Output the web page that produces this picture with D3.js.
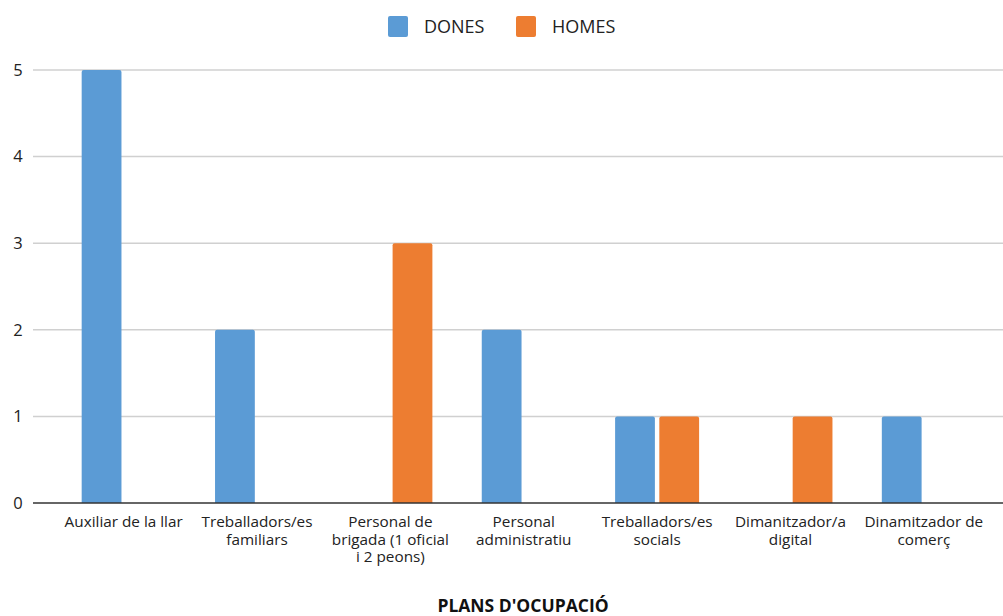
<!DOCTYPE html>
<html><head><meta charset="utf-8">
<script src="https://cdn.jsdelivr.net/npm/d3@7"></script>
<style>body{margin:0;background:#fff;}svg{display:block;font-family:"Open Sans",sans-serif;}</style>
</head><body><svg id="c" width="1003" height="616"></svg>
<script>
const categories = [
  ["Auxiliar de la llar"],
  ["Treballadors/es","familiars"],
  ["Personal de","brigada (1 oficial","i 2 peons)"],
  ["Personal","administratiu"],
  ["Treballadors/es","socials"],
  ["Dimanitzador/a","digital"],
  ["Dinamitzador de","comerç"]
];
const series = ["DONES","HOMES"];
const dones = [5, 2, 0, 2, 1, 0, 1];
const homes = [0, 0, 3, 0, 1, 1, 0];
const colors = ["#5b9bd5","#ed7d31"];
const yTicks = [0,1,2,3,4,5];
const xTitle = "PLANS D'OCUPACIÓ";

const svg = d3.select("#c");
const keys = categories.map(c => c.join(" "));
const x0 = d3.scaleBand().domain(keys).range([57, 990.5]);
const x1 = d3.scaleBand().domain(series).range([-42, 42]).paddingInner(0.1);
const y = d3.scaleLinear().domain([0,5]).range([503, 70]);

// gridlines
svg.append("g").selectAll("line").data(yTicks.filter(t=>t>0)).join("line")
  .attr("x1",33).attr("x2",1003).attr("y1",d=>y(d)).attr("y2",d=>y(d))
  .attr("stroke","#d0d0d0").attr("stroke-width",1.5);

// y labels
svg.append("g").selectAll("text").data(yTicks).join("text")
  .attr("x",18).attr("y",d=>y(d)).attr("dy","0.35em").attr("text-anchor","middle")
  .attr("font-size",16.5).attr("fill","#222").text(d=>d);

// bars
const data = keys.map((k,i)=>({k, vals:[dones[i],homes[i]]}));
const g = svg.append("g").selectAll("g").data(data).join("g")
  .attr("transform",d=>`translate(${x0(d.k)+x0.bandwidth()/2},0)`);
g.selectAll("path").data(d=>d.vals.map((v,j)=>({s:series[j],v,j})).filter(e=>e.v>0)).join("path")
  .attr("fill",d=>colors[d.j])
  .attr("d",d=>{
    const xa=x1(d.s), w=x1.bandwidth(), yt=y(d.v), yb=y(0), r=2;
    return `M${xa},${yb}V${yt+r}Q${xa},${yt} ${xa+r},${yt}H${xa+w-r}Q${xa+w},${yt} ${xa+w},${yt+r}V${yb}Z`;
  });

// baseline
svg.append("line").attr("x1",33).attr("x2",1003).attr("y1",y(0)).attr("y2",y(0))
  .attr("stroke","#333").attr("stroke-width",1.5);

// x labels
const xl = svg.append("g").selectAll("text").data(categories).join("text")
  .attr("x",(d,i)=>x0(keys[i])+x0.bandwidth()/2).attr("y",527)
  .attr("text-anchor","middle").attr("font-size",15.3).attr("fill","#222");
xl.selectAll("tspan").data(d=>d).join("tspan")
  .attr("x",function(){return d3.select(this.parentNode).attr("x");})
  .attr("dy",(d,i)=>i===0?0:17.6).text(d=>d);

// x title
svg.append("text").attr("x",523).attr("y",612).attr("text-anchor","middle")
  .attr("font-size",17.5).attr("font-weight","bold").attr("fill","#111").text(xTitle);

// legend
const leg = svg.append("g").selectAll("g").data(series).join("g")
  .attr("transform",(d,i)=>`translate(${i===0?388:516},16)`);
leg.append("rect").attr("width",20).attr("height",21).attr("rx",2).attr("fill",(d,i)=>colors[i]);
leg.append("text").attr("x",36).attr("y",10.5).attr("dy","0.35em").attr("font-size",18).attr("fill","#222").text(d=>d);
</script></body></html>
